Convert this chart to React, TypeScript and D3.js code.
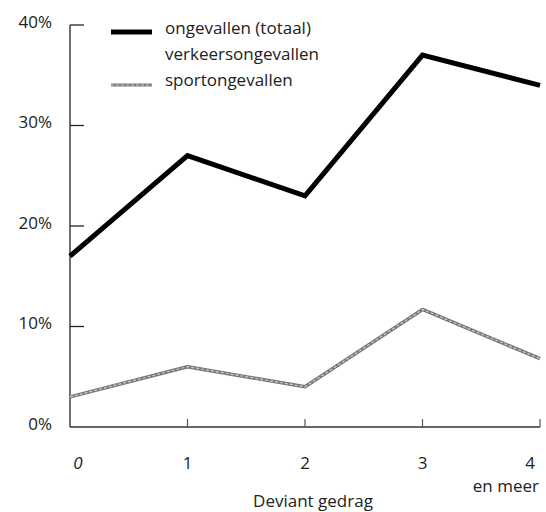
import * as d3 from 'd3'

const W = 546
const H = 512

const X_CATS = ['0', '1', '2', '3', '4']
const Y_TICKS = [0, 10, 20, 30, 40]
const TOTAAL = [17, 27, 23, 37, 34]
const SPORT = [3, 6, 4, 11.7, 6.8]
const LEGEND = ['ongevallen (totaal)', 'verkeersongevallen', 'sportongevallen']
const X_TITLE = 'Deviant gedrag'
const LAST_SUB = 'en meer'

const FONT = '"Open Sans", "Noto Sans", sans-serif'

export default function App() {
  const x = d3.scalePoint<string>().domain(X_CATS).range([70, 540])
  const y = d3.scaleLinear().domain([0, 40]).range([427, 25])

  const line = d3
    .line<number>()
    .x((_, i) => x(X_CATS[i])!)
    .y((d) => y(d))

  return (
    <svg
      width={W}
      height={H}
      style={{ position: 'absolute', left: 0, top: 0, background: '#fff' }}
      fontFamily={FONT}
      fontSize={17}
    >
      {/* y axis */}
      <line x1={70} x2={70} y1={y(40)} y2={y(0)} stroke="#222" strokeWidth={1.3} />
      {Y_TICKS.map((t) => (
        <g key={t}>
          {t > 0 && <line x1={70} x2={84} y1={y(t)} y2={y(t)} stroke="#222" strokeWidth={1.3} />}
          <text x={52} y={y(t) - 4} textAnchor="end" dominantBaseline="central" fill="#222">
            {t}%
          </text>
        </g>
      ))}

      {/* x axis */}
      <line x1={70} x2={x('4')!} y1={y(0)} y2={y(0)} stroke="#333" strokeWidth={1.3} />
      {X_CATS.map((c, i) => (
        <g key={c}>
          {i > 0 && (
            <line x1={x(c)!} x2={x(c)!} y1={y(0)} y2={y(0) - 8} stroke="#555" strokeWidth={1.2} />
          )}
          <text
            x={x(c)! + (i === 0 ? 8 : i === X_CATS.length - 1 ? -10 : 0)}
            y={462}
            textAnchor="middle"
            dominantBaseline="central"
            fill="#222"
            fontStyle={i === 0 ? 'italic' : 'normal'}
          >
            {c}
          </text>
        </g>
      ))}
      <text x={539} y={485} textAnchor="end" dominantBaseline="central" fill="#222">
        {LAST_SUB}
      </text>
      <text x={313} y={500} textAnchor="middle" dominantBaseline="central" fill="#222">
        {X_TITLE}
      </text>

      {/* series */}
      <path d={line(SPORT)!} fill="none" stroke="#777" strokeWidth={3.5} strokeLinejoin="round" />
      <path
        d={line(SPORT)!}
        fill="none"
        stroke="#d0d0d0"
        strokeWidth={1.2}
        strokeDasharray="3 2"
        strokeLinejoin="round"
      />
      <path d={line(TOTAAL)!} fill="none" stroke="#000" strokeWidth={5} strokeLinejoin="miter" />

      {/* legend */}
      <line x1={111} x2={152} y1={32} y2={32} stroke="#000" strokeWidth={5} />
      <line x1={111} x2={152} y1={85} y2={85} stroke="#777" strokeWidth={3} />
      <line x1={111} x2={152} y1={85} y2={85} stroke="#d0d0d0" strokeWidth={1} strokeDasharray="3 2" />
      {LEGEND.map((l, i) => (
        <text key={l} x={165} y={[27, 53, 79][i]} dominantBaseline="central" fill="#222">
          {l}
        </text>
      ))}
    </svg>
  )
}
